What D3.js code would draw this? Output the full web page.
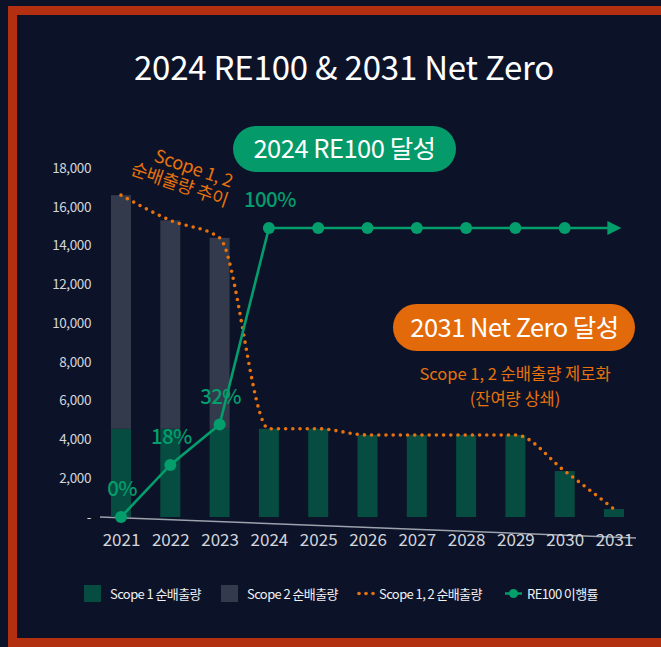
<!DOCTYPE html>
<html>
<head>
<meta charset="utf-8">
<script src="https://cdn.jsdelivr.net/npm/d3@7"></script>
<style>
  html, body { margin: 0; padding: 0; background: #0c1329; }
  svg { display: block; }
  text { font-family: "Noto Sans CJK KR", "Noto Sans", sans-serif; }
</style>
</head>
<body>
<svg id="chart" width="661" height="647"></svg>
<script>
// ---- data ----
const years = ["2021","2022","2023","2024","2025","2026","2027","2028","2029","2030","2031"];
const scope1 = [4550, 4550, 4550, 4550, 4550, 4230, 4230, 4230, 4230, 2370, 410];
const scope2 = [12050, 10750, 9850, 0, 0, 0, 0, 0, 0, 0, 0];
const re100 = [0, 18, 32, 100, 100, 100, 100, 100, 100, 100];
const re100Labels = ["0%", "18%", "32%", "100%"];
const yTicks = [0, 2000, 4000, 6000, 8000, 10000, 12000, 14000, 16000, 18000];
const legendLabels = ["Scope 1 순배출량", "Scope 2 순배출량", "Scope 1, 2 순배출량", "RE100 이행률"];

const C = {
  bg: "#0c1329", border: "#b2300f", s1: "#064c40", s2: "#333a4b",
  orange: "#e8720c", green: "#049d6c", axis: "#d3d5db", base: "#9da2ad"
};

const svg = d3.select("#chart");
svg.append("rect").attr("width", 661).attr("height", 647).attr("fill", C.bg);
// frame (top, left, bottom)
svg.append("rect").attr("x", 8).attr("y", 6).attr("width", 653).attr("height", 9).attr("fill", C.border);
svg.append("rect").attr("x", 8).attr("y", 6).attr("width", 9).attr("height", 641).attr("fill", C.border);
svg.append("rect").attr("x", 8).attr("y", 638).attr("width", 653).attr("height", 9).attr("fill", C.border);

// title
svg.append("text").attr("x", 344).attr("y", 80).attr("text-anchor", "middle")
  .attr("fill", "#ffffff").attr("font-size", 33).attr("letter-spacing", -0.2)
  .text("2024 RE100 & 2031 Net Zero");

// scales
const x = d3.scalePoint().domain(years).range([121, 614]);
const y = d3.scaleLinear().domain([0, 18000]).range([517, 168]);
const yPct = d3.scaleLinear().domain([0, 100]).range([517, 228]);
const barW = 20;

// y axis
const yAxis = svg.append("g").attr("transform", "translate(91,0)")
  .call(d3.axisLeft(y).tickValues(yTicks).tickSize(0).tickPadding(0)
    .tickFormat(d => d === 0 ? "-" : d3.format(",")(d)));
yAxis.select(".domain").remove();
yAxis.selectAll("text").attr("fill", C.axis).attr("font-size", 13.5)
  .attr("letter-spacing", -0.4)
  .style("font-family", '"Noto Sans CJK KR", "Noto Sans", sans-serif');

// slanted baseline
svg.append("line").attr("x1", 100).attr("y1", y(0)).attr("x2", 636).attr("y2", 538)
  .attr("stroke", C.base).attr("stroke-width", 1.5);

// stacked bars
const stackData = years.map((yr, i) => ({ year: yr, s1: scope1[i], s2: scope2[i] }));
const series = d3.stack().keys(["s1", "s2"])(stackData);
const fills = [C.s1, C.s2];
svg.append("g").selectAll("g").data(series).join("g")
  .attr("fill", (d, i) => fills[i])
  .selectAll("rect").data(d => d).join("rect")
  .attr("x", d => x(d.data.year) - barW / 2)
  .attr("width", barW)
  .attr("y", d => y(d[1]))
  .attr("height", d => y(d[0]) - y(d[1]));

// x axis
const xAxis = svg.append("g").attr("transform", "translate(0,534)")
  .call(d3.axisBottom(x).tickSize(0).tickPadding(0));
xAxis.select(".domain").remove();
xAxis.selectAll("text").attr("fill", C.axis).attr("font-size", 17)
  .style("font-family", '"Noto Sans CJK KR", "Noto Sans", sans-serif');

// dotted total line
const totals = years.map((yr, i) => scope1[i] + scope2[i]);
const totalLine = d3.line().x((d, i) => x(years[i])).y(d => y(d)).curve(d3.curveMonotoneX);
svg.append("path").datum(totals).attr("d", totalLine)
  .attr("fill", "none").attr("stroke", C.orange).attr("stroke-width", 3.6)
  .attr("stroke-linecap", "round").attr("stroke-dasharray", "0 7.2");

// RE100 line
const defs = svg.append("defs");
defs.append("marker").attr("id", "arrow").attr("viewBox", "0 0 10 10")
  .attr("refX", 4).attr("refY", 5).attr("markerUnits", "userSpaceOnUse")
  .attr("markerWidth", 16).attr("markerHeight", 14).attr("orient", "auto")
  .append("path").attr("d", "M0,0 L10,5 L0,10 Z").attr("fill", C.green);

const reLine = d3.line().x((d, i) => x(years[i])).y(d => yPct(d));
svg.append("path").datum(re100).attr("d", reLine)
  .attr("fill", "none").attr("stroke", C.green).attr("stroke-width", 2.6);
const lastIdx = re100.length - 1;
svg.append("line")
  .attr("x1", x(years[lastIdx])).attr("y1", yPct(re100[lastIdx]))
  .attr("x2", x(years[years.length - 1]) - 1).attr("y2", yPct(re100[lastIdx]))
  .attr("stroke", C.green).attr("stroke-width", 2.6).attr("marker-end", "url(#arrow)");
svg.append("g").selectAll("circle").data(re100).join("circle")
  .attr("cx", (d, i) => x(years[i])).attr("cy", d => yPct(d)).attr("r", 6)
  .attr("fill", C.green);

svg.append("g").selectAll("text").data(re100Labels).join("text")
  .attr("x", (d, i) => x(years[i]) + 1).attr("y", (d, i) => yPct(re100[i]) - 21)
  .attr("text-anchor", "middle").attr("fill", C.green).attr("font-size", 20.5)
  .attr("font-weight", 500).attr("letter-spacing", -0.6)
  .text(d => d);

// rotated annotation
const ann = svg.append("g").attr("transform", "translate(184,178) rotate(19)");
ann.append("text").attr("x", 6).attr("y", -6).attr("text-anchor", "middle")
  .attr("fill", C.orange).attr("font-size", 18).attr("letter-spacing", -0.3).text("Scope 1, 2");
ann.append("text").attr("x", -2).attr("y", 14).attr("text-anchor", "middle")
  .attr("fill", C.orange).attr("font-size", 18).attr("letter-spacing", -0.3).text("순배출량 추이");

// green pill
svg.append("rect").attr("x", 233).attr("y", 126).attr("width", 223).attr("height", 46)
  .attr("rx", 23).attr("fill", "#049a69");
svg.append("text").attr("x", 344.5).attr("y", 158).attr("text-anchor", "middle")
  .attr("fill", "#ffffff").attr("font-size", 25.5).attr("letter-spacing", -0.5)
  .text("2024 RE100 달성");

// orange pill
svg.append("rect").attr("x", 393).attr("y", 304).attr("width", 242).attr("height", 47)
  .attr("rx", 23.5).attr("fill", "#e36a0b");
svg.append("text").attr("x", 514.5).attr("y", 337).attr("text-anchor", "middle")
  .attr("fill", "#ffffff").attr("font-size", 25.5).attr("letter-spacing", -0.5)
  .text("2031 Net Zero 달성");
svg.append("text").attr("x", 515).attr("y", 380).attr("text-anchor", "middle")
  .attr("fill", C.orange).attr("font-size", 16.5).attr("letter-spacing", 0)
  .text("Scope 1, 2 순배출량 제로화");
svg.append("text").attr("x", 515).attr("y", 405).attr("text-anchor", "middle")
  .attr("fill", C.orange).attr("font-size", 16.5).attr("letter-spacing", 0)
  .text("(잔여량 상쇄)");

// legend
const lg = svg.append("g");
const lgX = [84, 221, 358, 505];
const lgTextX = [110, 247, 379, 527];
lgX.forEach((lx, i) => {
  if (i < 2) {
    lg.append("rect").attr("x", lx).attr("y", 585).attr("width", 17).attr("height", 17).attr("fill", fills[i]);
  } else if (i === 2) {
    [0, 7, 14].forEach(o => lg.append("circle").attr("cx", lx + 1 + o).attr("cy", 593.5).attr("r", 1.8).attr("fill", C.orange));
  } else {
    lg.append("line").attr("x1", lx).attr("x2", lx + 17).attr("y1", 593.5).attr("y2", 593.5)
      .attr("stroke", C.green).attr("stroke-width", 2.5);
    lg.append("circle").attr("cx", lx + 8.5).attr("cy", 593.5).attr("r", 4.5).attr("fill", C.green);
  }
  lg.append("text").attr("x", lgTextX[i]).attr("y", 599).attr("fill", "#f0f1f4")
    .attr("font-size", 13).attr("letter-spacing", -0.6).text(legendLabels[i]);
});
</script>
</body>
</html>
